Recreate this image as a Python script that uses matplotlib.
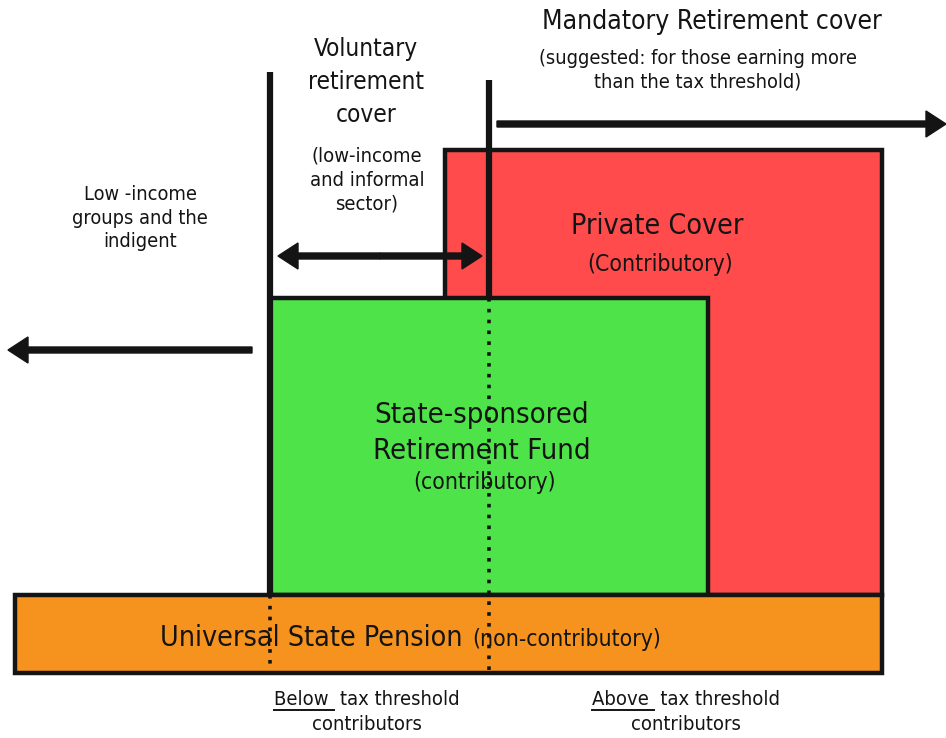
import matplotlib
matplotlib.use("Agg")
import matplotlib.pyplot as plt
from matplotlib.patches import Rectangle

# layout of the diagram, in pixel units of the 946x738 canvas (y grows downwards)
box_names = ["Private Cover", "State-sponsored Retirement Fund", "Universal State Pension"]
box_left = [445, 270, 15]
box_right = [882, 708, 882]
box_top = [150, 298, 595]
box_bottom = [595, 595, 673]
box_colors = ["#ff4b4b", "#4fe34a", "#f6921e"]

threshold_x = [270, 489]        # below / above tax threshold split lines
threshold_top = [72, 80]

INK = "#141414"

plt.rcParams['font.family'] = ['DejaVu Sans']
plt.rcParams['font.stretch'] = 'condensed'

fig = plt.figure(figsize=(9.46, 7.38), dpi=100)
ax = fig.add_axes([0, 0, 1, 1])
ax.set_xlim(0, 946)
ax.set_ylim(738, 0)
ax.axis("off")

for name, l, r, t, b, c in zip(box_names, box_left, box_right, box_top, box_bottom, box_colors):
    ax.add_patch(Rectangle((l, t), r - l, b - t, facecolor=c, edgecolor=INK, lw=3.2, zorder=2))

# solid vertical dividers
ax.plot([threshold_x[0]] * 2, [threshold_top[0], box_top[2]], color=INK, lw=4.5, zorder=4, solid_capstyle="butt")
ax.plot([threshold_x[1]] * 2, [threshold_top[1], box_top[1]], color=INK, lw=4.5, zorder=4, solid_capstyle="butt")
# dotted continuations
ax.plot([threshold_x[0]] * 2, [box_top[2], box_bottom[2] - 3], color=INK, lw=2.6, ls=(0, (1, 2)), zorder=5)
ax.plot([threshold_x[1]] * 2, [box_top[1], box_bottom[2] - 3], color=INK, lw=2.6, ls=(0, (1, 2)), zorder=5)

arrow_kw = dict(width=6, head_width=26, head_length=20, length_includes_head=True,
                color=INK, zorder=6)
ax.arrow(497, 124, 946 - 497, 0, **arrow_kw)
ax.arrow(252, 350, 8 - 252, 0, **arrow_kw)
mid = (278 + 482) / 2
ax.arrow(mid, 256, 482 - mid, 0, **arrow_kw)
ax.arrow(mid, 256, 278 - mid, 0, **arrow_kw)

# texts
ax.text(712, 22, "Mandatory Retirement cover", ha="center", va="center", fontsize=19, color=INK)
ax.text(698, 70, "(suggested: for those earning more\nthan the tax threshold)", ha="center",
        va="center", fontsize=14.3, color=INK, linespacing=1.3)
ax.text(366, 82, "Voluntary\nretirement\ncover", ha="center", va="center", fontsize=17.5,
        color=INK, linespacing=1.45)
ax.text(367, 180, "(low-income\nand informal\nsector)", ha="center", va="center", fontsize=14.5,
        color=INK, linespacing=1.3)
ax.text(140, 218, "Low -income\ngroups and the\nindigent", ha="center", va="center",
        fontsize=14.3, color=INK, linespacing=1.3)
ax.text(657, 226, "Private Cover", ha="center", va="center", fontsize=20.5, color=INK, zorder=7)
ax.text(660, 264, "(Contributory)", ha="center", va="center", fontsize=16.5, color=INK, zorder=7)
ax.text(482, 433, "State-sponsored\nRetirement Fund", ha="center", va="center", fontsize=21,
        color=INK, linespacing=1.32, zorder=7)
ax.text(485, 483, "(contributory)", ha="center", va="center", fontsize=16.5, color=INK, zorder=7)
ax.text(160, 646, "Universal State Pension", ha="left", va="baseline", fontsize=20.5,
        color=INK, zorder=7)
ax.text(472, 646, "(non-contributory)", ha="left", va="baseline", fontsize=16.5, color=INK, zorder=7)

fig.canvas.draw()
renderer = fig.canvas.get_renderer()
inv = ax.transData.inverted()
for cx, word in [(367, "Below"), (686, "Above")]:
    full = ax.text(cx, 712, word + "  tax threshold\ncontributors", ha="center", va="center",
                   fontsize=14.5, color=INK, linespacing=1.4)
    fig.canvas.draw()
    bb = full.get_window_extent(renderer)
    x0 = inv.transform((bb.x0, bb.y1))[0]
    w = ax.text(x0, 0, word, fontsize=14.5)
    wb = w.get_window_extent(renderer)
    w.remove()
    x1 = inv.transform((bb.x0 + wb.width, bb.y1))[0]
    ax.plot([x0, x1 + 5], [710, 710], color=INK, lw=1.4)

fig.savefig("out.png", dpi=100)
